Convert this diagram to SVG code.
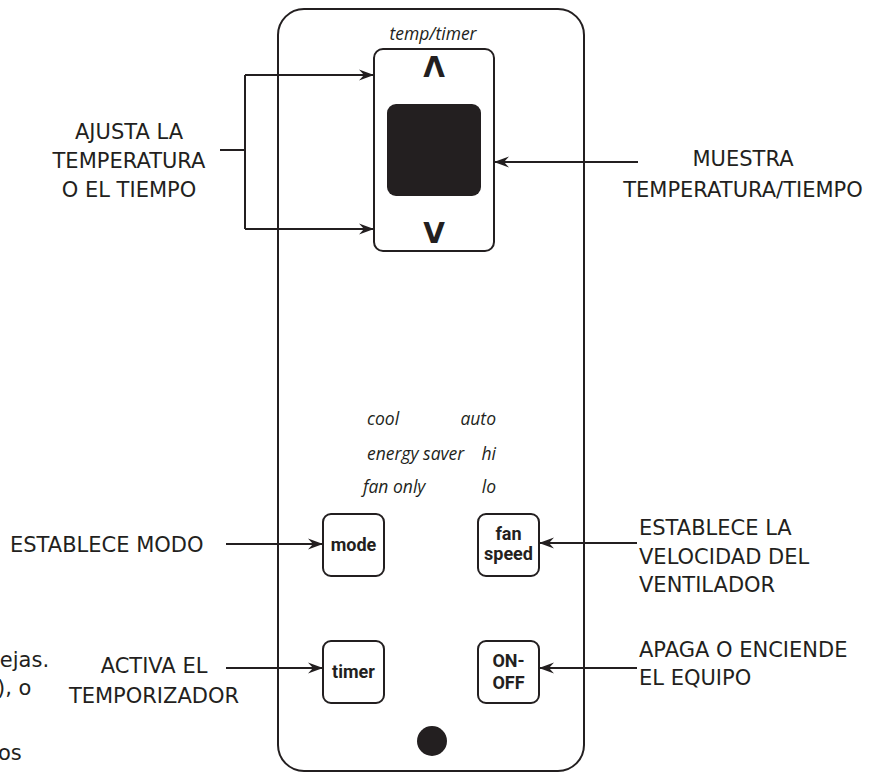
<svg xmlns="http://www.w3.org/2000/svg" width="889" height="773" viewBox="0 0 889 773">
<style>
.lbl{font-family:"DejaVu Sans","Liberation Sans",sans-serif;font-size:21px;fill:#231f20}
.it{font-family:"Open Sans","Noto Sans",sans-serif;font-style:italic;font-size:17.5px;fill:#231f20}
.btn{font-family:Roboto,"Open Sans",sans-serif;font-weight:700;font-size:18px;fill:#231f20;text-anchor:middle}
.box{fill:#fff;stroke:#231f20;stroke-width:2}
.ln{stroke:#231f20;stroke-width:2;fill:none}
.chev{font-family:"DejaVu Sans",sans-serif;font-weight:700;font-size:28px;fill:#231f20;text-anchor:middle}
</style>
<defs>
<marker id="ah" markerUnits="userSpaceOnUse" viewBox="-15 -6 16 12" refX="0" refY="0" markerWidth="16" markerHeight="12" orient="auto">
<path d="M0,0 L-15,-5.5 L-10,0 L-15,5.5 Z" fill="#231f20"/>
</marker>
</defs>
<rect width="889" height="773" fill="#fff"/>
<g id="remote">
<rect class="box" x="278" y="9" width="306" height="762" rx="26"/>
</g>
<g id="display">
<text class="it" x="433" y="40" text-anchor="middle" font-size="20px">temp/timer</text>
<rect class="box" x="374" y="49" width="120" height="202" rx="9"/>
<rect x="387" y="104" width="94" height="92" rx="9" fill="#231f20"/>
<text class="chev" x="434" y="77">Λ</text>
<text class="chev" x="434" y="243">V</text>
</g>
<g id="mode-labels">
<text class="it" x="367" y="425">cool</text>
<text class="it" x="496" y="425" text-anchor="end">auto</text>
<text class="it" x="367" y="460">energy saver</text>
<text class="it" x="496" y="460" text-anchor="end">hi</text>
<text class="it" x="363" y="493">fan only</text>
<text class="it" x="496" y="493" text-anchor="end">lo</text>
</g>
<g id="btn-mode">
<rect class="box" x="323" y="514" width="61" height="62" rx="8"/>
<text class="btn" x="353.5" y="551">mode</text>
</g>
<g id="btn-fan">
<rect class="box" x="478" y="514" width="61" height="62" rx="8"/>
<text class="btn" x="508.5" y="540">fan</text>
<text class="btn" x="508.5" y="560">speed</text>
</g>
<g id="btn-timer">
<rect class="box" x="323" y="641" width="61" height="62" rx="8"/>
<text class="btn" x="353.5" y="678">timer</text>
</g>
<g id="btn-onoff">
<rect class="box" x="478" y="641" width="61" height="62" rx="8"/>
<text class="btn" x="508.5" y="667">ON-</text>
<text class="btn" x="508.5" y="689">OFF</text>
</g>
<g id="ir">
<circle cx="432" cy="741" r="15" fill="#231f20"/>
</g>
<g id="connectors">
<path class="ln" d="M220,150 H245 M245,75 V229"/>
<path class="ln" d="M245,75 H374" marker-end="url(#ah)"/>
<path class="ln" d="M245,229 H374" marker-end="url(#ah)"/>
<path class="ln" d="M638,162 H494" marker-end="url(#ah)"/>
<path class="ln" d="M226,544 H323" marker-end="url(#ah)"/>
<path class="ln" d="M226,668 H323" marker-end="url(#ah)"/>
<path class="ln" d="M637,543 H539" marker-end="url(#ah)"/>
<path class="ln" d="M637,668 H539" marker-end="url(#ah)"/>
</g>
<g id="label-ajusta">
<text class="lbl" text-anchor="middle" x="129" y="139">AJUSTA LA</text>
<text class="lbl" text-anchor="middle" x="129" y="168">TEMPERATURA</text>
<text class="lbl" text-anchor="middle" x="129" y="197">O EL TIEMPO</text>
</g>
<g id="label-muestra">
<text class="lbl" text-anchor="middle" x="743" y="166">MUESTRA</text>
<text class="lbl" text-anchor="middle" x="743" y="197">TEMPERATURA/TIEMPO</text>
</g>
<g id="label-modo">
<text class="lbl" x="10" y="552">ESTABLECE MODO</text>
</g>
<g id="label-timer">
<text class="lbl" text-anchor="middle" x="154" y="673">ACTIVA EL</text>
<text class="lbl" text-anchor="middle" x="154" y="703">TEMPORIZADOR</text>
</g>
<g id="label-fan">
<text class="lbl" x="639" y="535">ESTABLECE LA</text>
<text class="lbl" x="639" y="564">VELOCIDAD DEL</text>
<text class="lbl" x="639" y="592">VENTILADOR</text>
</g>
<g id="label-onoff">
<text class="lbl" x="639" y="657">APAGA O ENCIENDE</text>
<text class="lbl" x="639" y="685">EL EQUIPO</text>
</g>
<g id="fragments">
<text class="lbl" x="-6" y="667">iejas.</text>
<text class="lbl" x="-3" y="695">), o</text>
<text class="lbl" x="-2" y="760">os</text>
</g>
</svg>
